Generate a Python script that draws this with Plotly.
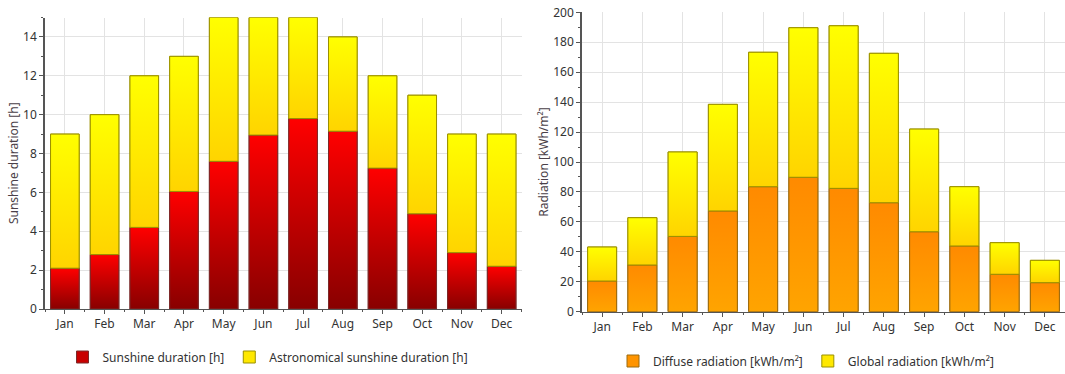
import plotly.graph_objects as go

months = ["Jan", "Feb", "Mar", "Apr", "May", "Jun",
          "Jul", "Aug", "Sep", "Oct", "Nov", "Dec"]

# Monthly sunshine hours per day
sunshine_h = [2.1, 2.8, 4.2, 6.05, 7.6, 8.95, 9.8, 9.15, 7.25, 4.9, 2.9, 2.2]
astronomical_h = [9, 10, 12, 13, 15, 15, 15, 14, 12, 11, 9, 9]

# Monthly radiation sums
diffuse_kwh = [20.5, 31.2, 50.3, 67.3, 83.5, 89.8, 82.4, 72.8, 53.4, 43.9, 25.0, 19.4]
global_kwh = [43.2, 62.8, 106.7, 138.5, 173.3, 189.7, 191.0, 172.6, 122.0, 83.5, 46.1, 34.3]

BAR_W = 0.72
FONT = "Noto Sans"
X = list(range(12))

fig = go.Figure()


def add_bar_series(lows, highs, name, bottom, top, edge, mid, xaxis, yaxis, legend):
    """Stacked bar segment from lows to highs, overlaid with a vertical gradient."""
    fig.add_trace(go.Bar(
        x=X, y=[h - l for l, h in zip(lows, highs)], base=lows,
        width=BAR_W, name=name, legend=legend,
        marker=dict(color=mid, line=dict(color=edge, width=1)),
        xaxis=xaxis, yaxis=yaxis, hoverinfo="skip",
    ))
    for i, (lo, hi) in enumerate(zip(lows, highs)):
        x0, x1 = i - BAR_W / 2, i + BAR_W / 2
        fig.add_trace(go.Scatter(
            x=[x0, x1, x1, x0, x0],
            y=[lo, lo, hi, hi, lo],
            mode="lines",
            fill="toself",
            fillgradient=dict(type="vertical", start=lo, stop=hi,
                              colorscale=[[0, bottom], [1, top]]),
            fillcolor=top,
            line=dict(color=edge, width=1),
            showlegend=False,
            xaxis=xaxis, yaxis=yaxis,
            hoverinfo="skip",
        ))


zeros = [0] * 12
add_bar_series(zeros, sunshine_h, "Sunshine duration [h]",
               "#880000", "#ff0000", "#7a2a2a", "#c80000", "x", "y", "legend")
add_bar_series(sunshine_h, astronomical_h, "Astronomical sunshine duration [h]",
               "#ffd400", "#ffff00", "#9a9000", "#ffe800", "x", "y", "legend")
add_bar_series(zeros, diffuse_kwh, "Diffuse radiation [kWh/m²]",
               "#ffa400", "#ff8a00", "#9a6a10", "#ff9400", "x2", "y2", "legend2")
add_bar_series(diffuse_kwh, global_kwh, "Global radiation [kWh/m²]",
               "#ffd400", "#ffff00", "#9a9000", "#ffe800", "x2", "y2", "legend2")

W, H = 1065, 374

xcommon = dict(
    range=[-0.5, 11.5],
    tickmode="array",
    tickvals=X,
    ticktext=months,
    showgrid=True, gridcolor="#e3e3e3", gridwidth=1,
    showline=True, linecolor="#555555", linewidth=1,
    ticks="outside", ticklen=4, tickcolor="#555555",
    minor=dict(tickvals=[k - 0.5 for k in range(13)], ticks="outside",
               ticklen=2, tickcolor="#555555", showgrid=False),
    tickfont=dict(family=FONT, size=12, color="#333333"),
    zeroline=False, fixedrange=True,
)
ycommon = dict(
    showgrid=True, gridcolor="#e3e3e3", gridwidth=1,
    showline=True, linecolor="#555555", linewidth=1.5,
    ticks="outside", ticklen=4, tickcolor="#555555",
    tickfont=dict(family=FONT, size=12, color="#333333"),
    zeroline=False, fixedrange=True,
)

fig.update_layout(
    width=W, height=H,
    margin=dict(l=0, r=0, t=0, b=0, autoexpand=False),
    plot_bgcolor="white", paper_bgcolor="white",
    font=dict(family=FONT, size=12, color="#333333"),
    barmode="overlay",
    xaxis=dict(domain=[45 / W, 521.5 / W], anchor="y", **xcommon),
    yaxis=dict(domain=[1 - 309 / H, 1 - 17.5 / H], anchor="x",
               range=[0, 15], dtick=2,
               minor=dict(dtick=1, ticks="outside", ticklen=2,
                          tickcolor="#555555", showgrid=False),
               title=dict(text="Sunshine duration [h]", standoff=2,
                          font=dict(family=FONT, size=12, color="#4a3f48")),
               **ycommon),
    xaxis2=dict(domain=[582 / W, 1.0], anchor="y2", **xcommon),
    yaxis2=dict(domain=[1 - 311.7 / H, 1 - 12.3 / H], anchor="x2",
                range=[0, 200], dtick=20,
                minor=dict(dtick=10, ticks="outside", ticklen=2,
                           tickcolor="#555555", showgrid=False),
                title=dict(text="Radiation [kWh/m²]", standoff=2,
                           font=dict(family=FONT, size=12, color="#4a3f48")),
                **ycommon),
    legend=dict(orientation="h", x=268 / W, y=1 - 357 / H,
                xanchor="center", yanchor="middle",
                font=dict(family=FONT, size=12, color="#333333"),
                itemwidth=30, bgcolor="rgba(0,0,0,0)"),
    legend2=dict(orientation="h", x=806 / W, y=1 - 361 / H,
                 xanchor="center", yanchor="middle",
                 font=dict(family=FONT, size=12, color="#333333"),
                 itemwidth=30, bgcolor="rgba(0,0,0,0)"),
    showlegend=True,
)

fig.write_html("out.html")
